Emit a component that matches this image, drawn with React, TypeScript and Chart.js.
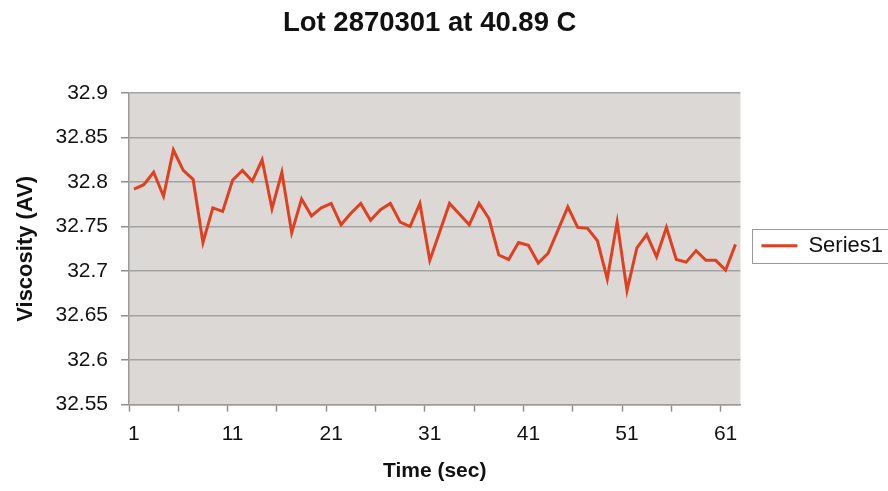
import { useEffect, useRef } from 'react';
import { Chart, registerables } from 'chart.js';

Chart.register(...registerables);

const chartTitle = 'Lot 2870301 at 40.89 C';
const xAxisTitle = 'Time (sec)';
const yAxisTitle = 'Viscosity (AV)';
const seriesName = 'Series1';

const categories = [
  '1', '2', '3', '4', '5', '6', '7', '8', '9', '10',
  '11', '12', '13', '14', '15', '16', '17', '18', '19', '20',
  '21', '22', '23', '24', '25', '26', '27', '28', '29', '30',
  '31', '32', '33', '34', '35', '36', '37', '38', '39', '40',
  '41', '42', '43', '44', '45', '46', '47', '48', '49', '50',
  '51', '52', '53', '54', '55', '56', '57', '58', '59', '60',
  '61', '62',
];

const viscosity = [
  32.792, 32.797, 32.811, 32.784, 32.836, 32.813, 32.803, 32.732, 32.771, 32.767,
  32.802, 32.813, 32.801, 32.825, 32.770, 32.811, 32.743, 32.781, 32.762, 32.771,
  32.776, 32.752, 32.765, 32.776, 32.757, 32.769, 32.776, 32.755, 32.750, 32.776,
  32.712, 32.744, 32.776, 32.764, 32.752, 32.776, 32.759, 32.718, 32.713, 32.732,
  32.729, 32.709, 32.720, 32.746, 32.772, 32.749, 32.748, 32.734, 32.691, 32.755,
  32.678, 32.726, 32.741, 32.716, 32.749, 32.713, 32.710, 32.723, 32.712, 32.712,
  32.701, 32.730,
];

const xTickLabels = ['1', '11', '21', '31', '41', '51', '61'];
const yMin = 32.55;
const yMax = 32.9;
const yStep = 0.05;

const FONT = "'Liberation Sans', Arial, sans-serif";

const plotBgPlugin = {
  id: 'plotBg',
  beforeDraw(chart: any) {
    const { ctx, chartArea } = chart;
    if (!chartArea) return;
    ctx.save();
    ctx.fillStyle = '#dbd8d5';
    ctx.fillRect(chartArea.left, chartArea.top, chartArea.right - chartArea.left, chartArea.bottom - chartArea.top);
    ctx.restore();
  },
};

const titlePlugin = {
  id: 'customTitle',
  afterDraw(chart: any) {
    const { ctx, chartArea } = chart;
    ctx.save();
    ctx.font = `bold 27.5px ${FONT}`;
    ctx.fillStyle = '#111';
    ctx.textAlign = 'center';
    ctx.textBaseline = 'middle';
    ctx.fillText(chartTitle, (chartArea.left + chartArea.right) / 2 - 5, 23);
    ctx.restore();
  },
};

const legendPlacePlugin = {
  id: 'legendPlace',
  afterLayout(chart: any) {
    const lg = chart.legend;
    const ca = chart.chartArea;
    if (!lg || !ca) return;
    lg.top = ca.top;
    lg.bottom = ca.bottom - 6;
    lg.left += 13;
    lg.right += 13;
  },
};

const legendBoxPlugin = {
  id: 'legendBox',
  afterDraw(chart: any) {
    const lg = chart.legend;
    if (!lg || !lg.legendHitBoxes || !lg.legendHitBoxes.length) return;
    const hb = lg.legendHitBoxes[0];
    const { ctx } = chart;
    ctx.save();
    ctx.strokeStyle = '#9a9a9a';
    ctx.lineWidth = 1;
    const l = Math.round(hb.left - 9) + 0.5;
    const t = Math.round(hb.top - 6) + 0.5;
    ctx.strokeRect(l, t, 200, Math.round(hb.height + 12));
    ctx.restore();
  },
};

export default function App() {
  const canvasRef = useRef<HTMLCanvasElement | null>(null);

  useEffect(() => {
    if (!canvasRef.current) return;
    const chart = new Chart(canvasRef.current, {
      type: 'line',
      data: {
        labels: categories,
        datasets: [
          {
            label: seriesName,
            data: viscosity,
            borderColor: '#e0401f',
            backgroundColor: '#e0401f',
            borderWidth: 3,
            pointRadius: 0,
            pointHoverRadius: 0,
            tension: 0,
            fill: false,
          },
        ],
      },
      options: {
        animation: false,
        responsive: true,
        maintainAspectRatio: false,
        layout: { padding: { top: 93, right: 8, bottom: 7, left: 0 } },
        plugins: {
          title: { display: false },
          tooltip: { enabled: false },
          legend: {
            position: 'right',
            align: 'center',
            labels: {
              usePointStyle: true,
              pointStyle: 'line',
              pointStyleWidth: 36,
              boxHeight: 22,
              padding: 8,
              color: '#111',
              font: { family: FONT, size: 22 },
            },
          },
        },
        scales: {
          x: {
            type: 'category',
            offset: true,
            grid: {
              display: true,
              offset: true,
              drawOnChartArea: false,
              drawTicks: true,
              tickLength: 7,
              tickWidth: 1.5,
              tickColor: (ctx: any) => (ctx.index % 5 === 0 ? '#8f8f8f' : 'rgba(0,0,0,0)'),
            },
            border: { display: true, color: '#9a9a9a', width: 1.5 },
            ticks: {
              autoSkip: false,
              maxRotation: 0,
              minRotation: 0,
              padding: 10,
              color: '#111',
              font: { family: FONT, size: 21 },
              callback: (_v: any, index: number) =>
                xTickLabels.includes(categories[index]) ? categories[index] : '',
            },
            title: {
              display: true,
              text: xAxisTitle,
              color: '#111',
              font: { family: FONT, size: 21, weight: 'bold' },
              padding: { top: 2, bottom: 0 },
            },
          },
          y: {
            min: yMin,
            max: yMax,
            afterFit: (scale: any) => {
              scale.width = 129;
            },
            grid: {
              color: '#a3a3a3',
              lineWidth: 1.5,
              drawTicks: true,
              tickLength: 8,
              tickColor: '#8f8f8f',
            },
            border: { display: true, color: '#9a9a9a', width: 1.5 },
            ticks: {
              stepSize: yStep,
              padding: 13,
              color: '#111',
              font: { family: FONT, size: 21 },
              callback: (v: any) => String(Number(Number(v).toFixed(2))),
            },
            title: {
              display: true,
              text: yAxisTitle,
              color: '#111',
              font: { family: FONT, size: 22, weight: 'bold' },
              padding: { top: 13, bottom: 0 },
            },
          },
        },
      },
      plugins: [plotBgPlugin, titlePlugin, legendPlacePlugin, legendBoxPlugin],
    });
    return () => chart.destroy();
  }, []);

  return (
    <div style={{ position: 'fixed', left: 0, top: 0, width: 888, height: 491, background: '#fff' }}>
      <canvas ref={canvasRef} />
    </div>
  );
}
